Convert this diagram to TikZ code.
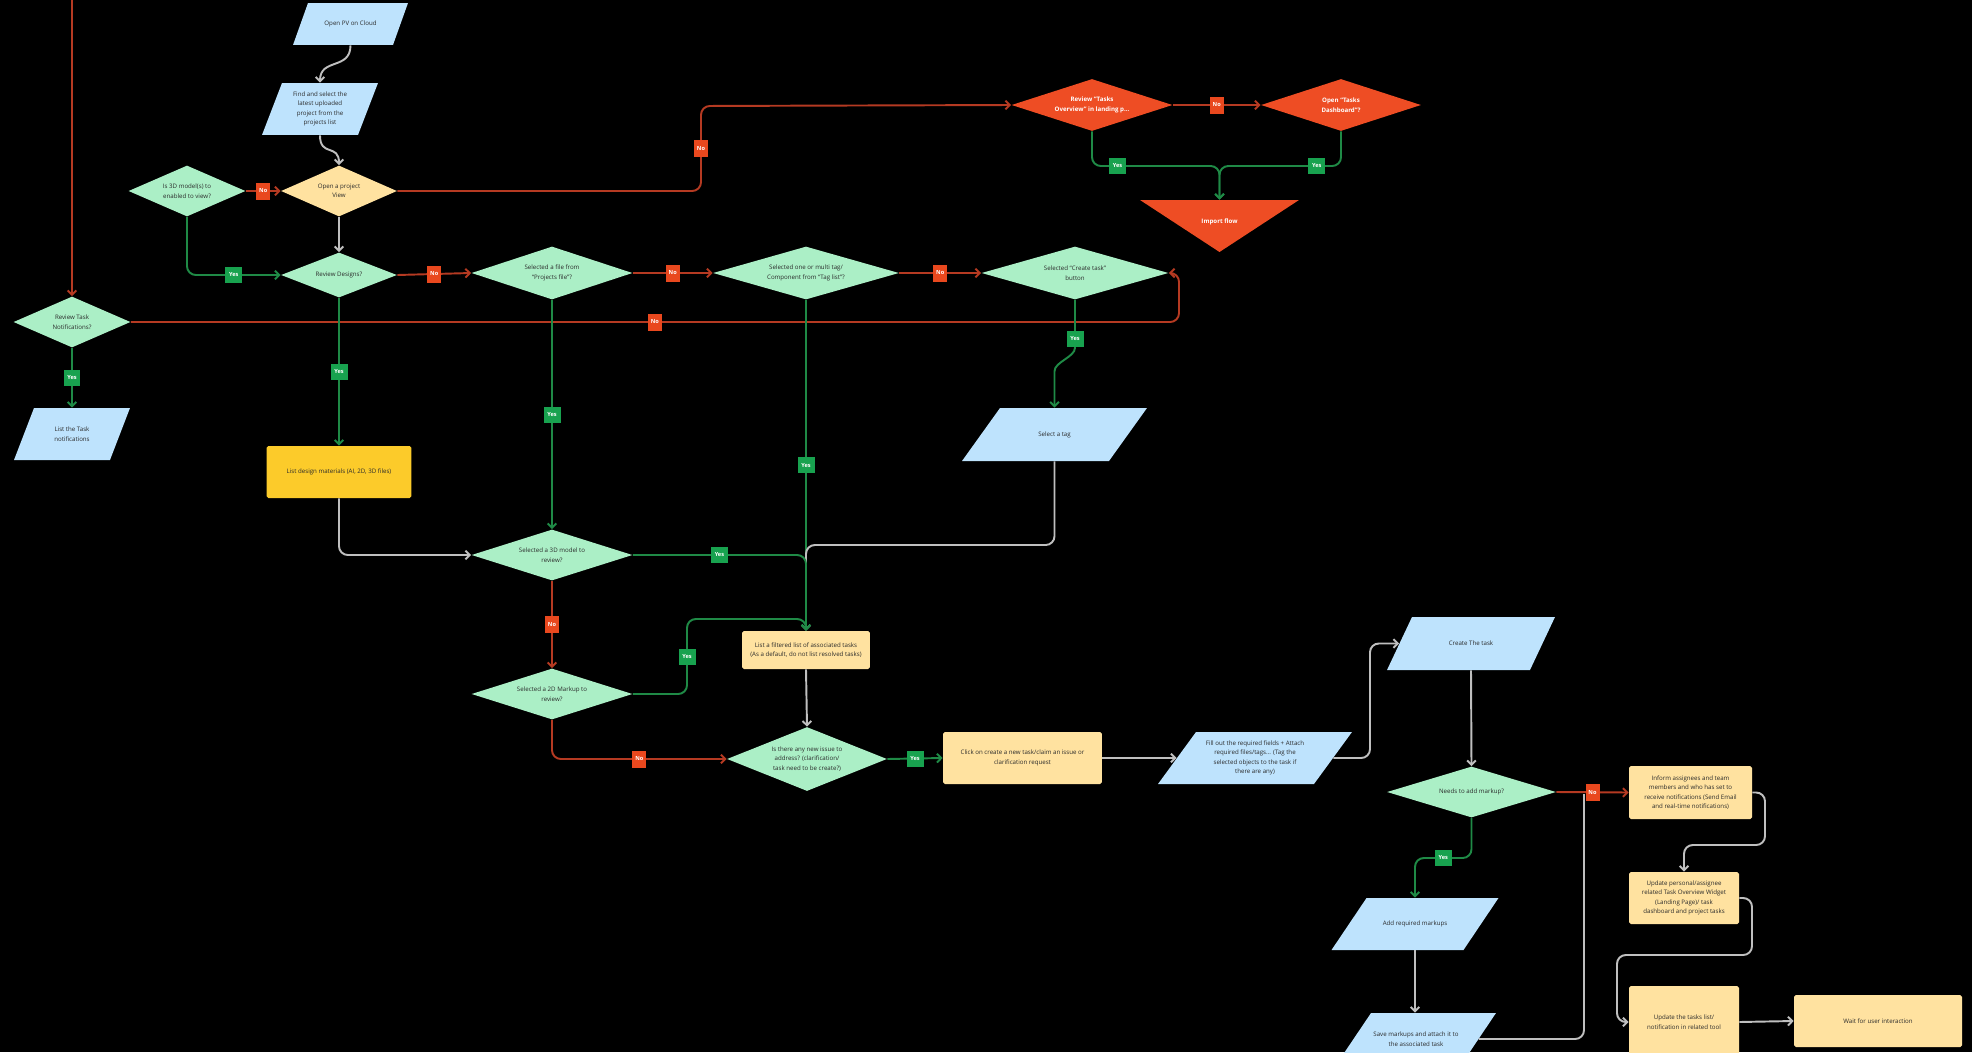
\documentclass[tikz,border=0pt]{standalone}
\usepackage{fontspec}
\setmainfont{Open Sans}
\usetikzlibrary{shapes.geometric,arrows.meta}

\definecolor{ioblue}{HTML}{BEE3FD}
\definecolor{decgreen}{HTML}{ABEFC6}
\definecolor{actpeach}{HTML}{FFE2A0}
\definecolor{matyellow}{HTML}{FCCB2A}
\definecolor{flowred}{HTML}{EE4D24}
\definecolor{noline}{HTML}{B53A22}
\definecolor{yesline}{HTML}{1F8A46}
\definecolor{nobox}{HTML}{E9481E}
\definecolor{yesbox}{HTML}{18A24F}
\definecolor{grayline}{HTML}{BFBFBF}
\definecolor{txtdark}{HTML}{2B2B2B}

\begin{document}
\begin{tikzpicture}[x=0.02cm,y=-0.02cm,
  font=\fontsize{3.5}{5.4}\selectfont,
  every node/.style={text=txtdark, align=center},
  dec/.style={diamond, aspect=3, fill=decgreen, inner sep=0pt},
  flow/.style={fill=flowred, text=white, font=\fontsize{3.5}{5.4}\selectfont\bfseries},
  act/.style={rectangle, rounded corners=1pt, fill=actpeach, inner sep=1pt},
  io/.style={rectangle, inner sep=0pt, path picture={
    \fill[ioblue] ([xshift=#1]path picture bounding box.north west) -- (path picture bounding box.north east)
      -- ([xshift=-#1]path picture bounding box.south east) -- (path picture bounding box.south west) -- cycle;}},
  tri/.style={rectangle, inner sep=0pt, text=white, font=\fontsize{3.5}{5.4}\selectfont\bfseries, path picture={
    \fill[flowred] (path picture bounding box.north west) -- (path picture bounding box.north east)
      -- (path picture bounding box.south) -- cycle;}},
  nline/.style={draw=noline, line width=1.1pt, rounded corners=5pt, -{Straight Barb[length=2.5pt,width=5pt]}},
  yline/.style={draw=yesline, line width=1.1pt, rounded corners=5pt, -{Straight Barb[length=2.5pt,width=5pt]}},
  gline/.style={draw=grayline, line width=1.1pt, rounded corners=5pt, -{Straight Barb[length=2.5pt,width=5pt]}},
  nolbl/.style={sharp corners, fill=nobox, text=white, font=\fontsize{3.2}{3.2}\selectfont\bfseries, minimum width=0.28cm, minimum height=0.34cm, inner sep=0pt},
  yeslbl/.style={sharp corners, fill=yesbox, text=white, font=\fontsize{3.2}{3.2}\selectfont\bfseries, minimum width=0.34cm, minimum height=0.32cm, inner sep=0pt}]

\useasboundingbox (0,0) rectangle (1972,1052);
\fill[black] (0,0) rectangle (1972,1052);
\clip (0,0) rectangle (1972,1052);

% shapes
\node[io=0.3cm, minimum width=2.3cm, minimum height=0.84cm] (openpv) at (350.5,24) {Open PV on Cloud};
\node[io=0.4cm, minimum width=2.32cm, minimum height=1.04cm] (find) at (320,109) {Find and select the\\latest uploaded\\project from the\\projects list};
\node[dec, minimum width=2.34cm, minimum height=1.02cm] (is3d) at (187,191) {Is 3D model(s) to\\enabled to view?};
\node[dec, fill=actpeach, minimum width=2.32cm, minimum height=1.02cm] (openproj) at (339,191) {Open a project\\View};
\node[dec, minimum width=2.32cm, minimum height=0.9cm] (revdes) at (339,275) {Review Designs?};
\node[dec, minimum width=2.34cm, minimum height=1.02cm] (revtask) at (72,322) {Review Task\\Notifications?};
\node[io=0.4cm, minimum width=2.32cm, minimum height=1.04cm] (listnotif) at (72,434) {List the Task\\notifications};
\node[dec, minimum width=3.22cm, minimum height=1.06cm] (selfile) at (552,273) {Selected a file from\\``Projects file''?};
\node[dec, minimum width=3.72cm, minimum height=1.06cm] (seltag) at (806,273) {Selected one or multi tag/\\Component from ``Tag list''?};
\node[dec, minimum width=3.74cm, minimum height=1.06cm] (selcreate) at (1075,273) {Selected ``Create task''\\button};
\node[dec, flow, minimum width=3.22cm, minimum height=1.04cm] (tasksov) at (1092,105) {Review ``Tasks\\Overview'' in landing p...};
\node[dec, flow, minimum width=3.2cm, minimum height=1.04cm] (dashb) at (1341,105) {Open ``Tasks\\Dashboard''?};
\node[tri, minimum width=3.18cm, minimum height=1.04cm] (import) at (1219.5,226) {\raisebox{0.2cm}{Import flow}};
\node[act, fill=matyellow, minimum width=2.9cm, minimum height=1.04cm] (listdes) at (339,472) {List design materials (AI, 2D, 3D files)};
\node[dec, minimum width=3.22cm, minimum height=1.02cm] (sel3d) at (552,555) {Selected a 3D model to\\review?};
\node[dec, minimum width=3.22cm, minimum height=1.02cm] (sel2d) at (552,694) {Selected a 2D Markup to\\review?};
\node[io=0.76cm, minimum width=3.7cm, minimum height=1.06cm] (selecttag) at (1054.5,434.5) {Select a tag};
\node[act, minimum width=2.56cm, minimum height=0.76cm] (listfilt) at (806,650) {List a filtered list of associated tasks\\(As a default, do not list resolved tasks)};
\node[dec, minimum width=3.2cm, minimum height=1.28cm] (newissue) at (807,759) {Is there any new issue to\\address? (clarification/\\task need to be create?)};
\node[act, minimum width=3.18cm, minimum height=1.04cm] (click) at (1022.5,758) {Click on create a new task/claim an issue or\\clarification request};
\node[io=0.76cm, minimum width=3.88cm, minimum height=1.04cm] (fillout) at (1255,758) {Fill out the required fields + Attach\\required files/tags... (Tag the\\selected objects to the task if\\there are any)};
\node[io=0.5cm, minimum width=3.36cm, minimum height=1.06cm] (createtask) at (1471,643.5) {Create The task};
\node[dec, minimum width=3.38cm, minimum height=1.02cm] (needs) at (1471.5,792) {Needs to add markup?};
\node[act, minimum width=2.46cm, minimum height=1.06cm] (inform) at (1690.5,792.5) {Inform assignees and team\\members and who has set to\\receive notifications (Send Email\\and real-time notifications)};
\node[act, minimum width=2.2cm, minimum height=1.04cm] (updpers) at (1684,898) {Update personal/assignee\\related Task Overview Widget\\(Landing Page)/ task\\dashboard and project tasks};
\node[act, minimum width=2.2cm, minimum height=1.44cm] (updtasks) at (1684,1022) {Update the tasks list/\\notification in related tool};
\node[act, minimum width=3.36cm, minimum height=1.04cm] (wait) at (1878,1021) {Wait for user interaction};
\node[io=0.7cm, minimum width=3.34cm, minimum height=1.04cm] (addmark) at (1415,924) {Add required markups};
\node[io=0.7cm, minimum width=3.2cm, minimum height=1.04cm] (savemark) at (1416,1039) {Save markups and attach it to\\the associated task};
\coordinate (topin) at (72,0);

% connectors
\draw[gline] (openpv.south) .. controls +(0,25) and +(0,-25) .. (find.north);
\draw[gline] (find.south) .. controls +(0,22) and +(0,-22) .. (openproj.north);
\draw[nline] (is3d.east) -- node[nolbl]{No} (openproj.west);
\draw[gline] (openproj.south) -- (revdes.north);
\draw[yline] (is3d.south) |- node[pos=0.75,yeslbl]{Yes} (revdes.west);
\draw[nline] (openproj.east) -- (701,191) -- node[nolbl]{No} (701,106) -- (tasksov.west);
\draw[nline] (tasksov.east) -- node[nolbl]{No} (dashb.west);
\draw[yline] (tasksov.south) |- node[pos=0.6,yeslbl]{Yes} (1219.5,166) -- (import.north);
\draw[yline] (dashb.south) |- node[pos=0.6,yeslbl]{Yes} (1219.5,166) -- (import.north);
\draw[nline] (topin) -- (revtask.north);
\draw[nline] (revtask.east) -- node[nolbl]{No} (1179,322) -- (1179,273) -- (selcreate.east);
\draw[nline] (revdes.east) -- node[nolbl]{No} (selfile.west);
\draw[nline] (selfile.east) -- node[nolbl]{No} (seltag.west);
\draw[nline] (seltag.east) -- node[nolbl]{No} (selcreate.west);
\draw[yline] (revtask.south) -- node[yeslbl]{Yes} (listnotif.north);
\draw[yline] (revdes.south) -- node[yeslbl]{Yes} (listdes.north);
\draw[gline] (listdes.south) |- (sel3d.west);
\draw[yline] (selfile.south) -- node[yeslbl]{Yes} (sel3d.north);
\draw[yline] (seltag.south) -- node[yeslbl]{Yes} (listfilt.north);
\draw[yline] (selcreate.south) -- (1075,339) node[yeslbl]{Yes} .. controls +(0,18) and +(0,-18) .. (1054.5,380) -- (selecttag.north);
\draw[gline] (selecttag.south) -- (1054.5,545) -- (806,545) -- (listfilt.north);
\draw[yline] (sel3d.east) -| node[pos=0.25,yeslbl]{Yes} (listfilt.north);
\draw[nline] (sel3d.south) -- node[nolbl]{No} (sel2d.north);
\draw[yline] (sel2d.east) -- (687,694) -- node[yeslbl]{Yes} (687,619) -- (806,619) -- (listfilt.north);
\draw[gline] (listfilt.south) -- (newissue.north);
\draw[nline] (sel2d.south) |- node[pos=0.75,nolbl]{No} (newissue.west);
\draw[yline] (newissue.east) -- node[yeslbl]{Yes} (click.west);
\draw[gline] (click.east) -- ([xshift=0.38cm]fillout.west);
\draw[gline] ([xshift=-0.38cm]fillout.east) -- (1370,758) -- (1370,643.5) -- ([xshift=0.25cm]createtask.west);
\draw[gline] (createtask.south) -- (needs.north);
\draw[gline, -] ([xshift=-0.35cm]savemark.east) -- (1584,1039) -- (1584,794);
\draw[nline] (needs.east) -- node[nolbl]{No} (inform.west);
\draw[gline] (inform.east) -- (1765,792.5) -- (1765,845) -- (1684,845) -- (updpers.north);
\draw[gline] (updpers.east) -- (1752,898) -- (1752,955) -- (1617,955) -- (1617,1022) -- (updtasks.west);
\draw[gline] (updtasks.east) -- (wait.west);
\draw[yline] (needs.south) -- (1471.5,858) -- node[yeslbl]{Yes} (1415,858) -- (addmark.north);
\draw[gline] (addmark.south) -- (addmark.south |- savemark.north);
\end{tikzpicture}
\end{document}
